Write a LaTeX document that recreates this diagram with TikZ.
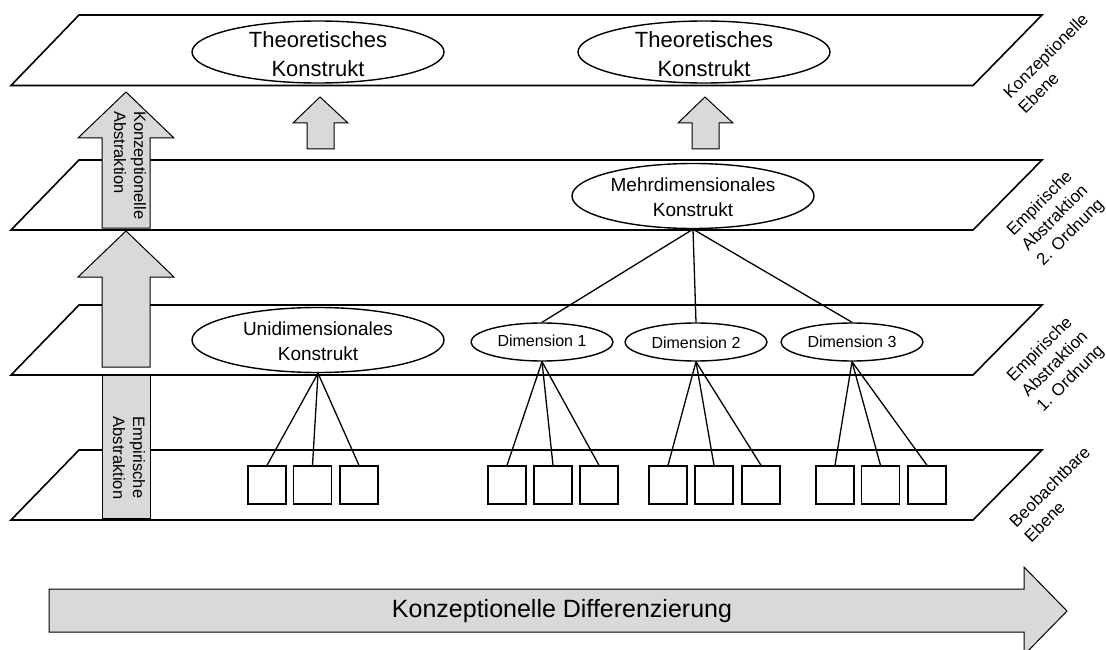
\documentclass[tikz,border=0pt]{standalone}
\usepackage{fontspec}
\setmainfont{Liberation Sans}
\usetikzlibrary{shapes.geometric}
\definecolor{arrowgray}{HTML}{D9D9D9}
\begin{document}
\begin{tikzpicture}[x=1pt,y=-1pt,
  plane/.style={draw=black, fill=white, line width=1.6pt, line join=miter},
  blockarrow/.style={draw=black, fill=arrowgray, line width=1pt, line join=miter},
  ell/.style={ellipse, draw=black, fill=white, line width=1.4pt, inner sep=0pt},
  item/.style={rectangle, draw=black, fill=white, line width=1.4pt, minimum width=38pt, minimum height=38pt, inner sep=0pt},
  link/.style={draw=black, line width=1.3pt},
  bigtxt/.style={align=center, inner sep=0pt, font=\fontsize{22}{29.5}\selectfont},
  midtxt/.style={align=center, inner sep=0pt, font=\fontsize{19}{24.5}\selectfont},
  dimtxt/.style={align=center, inner sep=0pt, font=\fontsize{16}{19}\selectfont},
  sidelbl/.style={rotate=45, align=left, inner sep=0pt, font=\fontsize{17}{21}\selectfont},
  arrowlbl/.style={rotate=-90, align=left, inner sep=0pt, font=\fontsize{16.5}{20}\selectfont}
]
\useasboundingbox (0,0) rectangle (1106,650);

% the four levels
\foreach \t/\b in {15/85.5, 160/230, 305/375, 450/520}
  \draw[plane] (11,\b) -- (973,\b) -- (1042,\t) -- (79,\t) -- cycle;

% level captions
\node[sidelbl] (capA) at (1053,63) {Konzeptionelle\\Ebene};
\node[sidelbl] (capB) at (1056,218) {Empirische\\Abstraktion\\2. Ordnung};
\node[sidelbl] (capC) at (1056,364) {Empirische\\Abstraktion\\1. Ordnung};
\node[sidelbl] (capD) at (1057,494) {Beobachtbare\\Ebene};

% vertical abstraction arrows
\draw[blockarrow] (126,92) -- (174,138) -- (150,138) -- (150,228) -- (102,228) -- (102,138) -- (78,138) -- cycle;
\draw[blockarrow] (126,231) -- (174,277) -- (150,277) -- (150,367) -- (102,367) -- (102,277) -- (78,277) -- cycle;
\draw[blockarrow] (102,375) rectangle (150,518);
\node[arrowlbl, anchor=west] (konzabs) at (130,111) {Konzeptionelle\\Abstraktion};
\node[arrowlbl] (empabs) at (129,458) {Empirische\\Abstraktion};

% small arrows below the theoretical constructs
\draw[blockarrow] (320,97) -- (348,123) -- (334,123) -- (334,149) -- (307,149) -- (307,123) -- (293,123) -- cycle;
\draw[blockarrow] (705,97) -- (733,123) -- (719,123) -- (719,149) -- (692,149) -- (692,123) -- (678,123) -- cycle;

% horizontal differentiation arrow
\draw[blockarrow] (49,589) -- (1024,589) -- (1024,567) -- (1067,611) -- (1024,655) -- (1024,632) -- (49,632) -- cycle;
\node[inner sep=0pt, font=\fontsize{25}{29}\selectfont] (diff) at (562,611) {Konzeptionelle Differenzierung};

% constructs
\node[ell, minimum width=252pt, minimum height=62pt] (theo1) at (318,52) {};
\node[bigtxt] (theo1t) at (318,54) {Theoretisches\\Konstrukt};
\node[ell, minimum width=252pt, minimum height=62pt] (theo2) at (704,52) {};
\node[bigtxt] (theo2t) at (704,54) {Theoretisches\\Konstrukt};

\node[ell, minimum width=242pt, minimum height=65pt] (mehr) at (693,196) {};
\node[midtxt] (mehrt) at (693,197) {Mehrdimensionales\\Konstrukt};

\node[ell, minimum width=252pt, minimum height=65pt] (uni) at (318,340) {};
\node[midtxt] (unit) at (318,341) {Unidimensionales\\Konstrukt};

\node[ell, minimum width=142pt, minimum height=38pt] (dim1) at (542,342) {};
\node[dimtxt] (dim1t) at (542,341) {Dimension 1};
\node[ell, minimum width=142pt, minimum height=38pt] (dim2) at (696,342) {};
\node[dimtxt] (dim2t) at (696,343) {Dimension 2};
\node[ell, minimum width=142pt, minimum height=38pt] (dim3) at (852,342) {};
\node[dimtxt] (dim3t) at (852,342) {Dimension 3};

% observable indicators
\foreach \n/\x in {u1/267, u2/312.5, u3/359, a1/507, a2/553, a3/599, b1/668, b2/714, b3/761, c1/835, c2/880.5, c3/927}
  \node[item] (\n) at (\x,485) {};

% connections
\foreach \d in {dim1, dim2, dim3}
  \draw[link] (mehr.south) -- (\d.north);
\foreach \b in {u1, u2, u3}
  \draw[link] (uni.south) -- (\b.north);
\foreach \b in {a1, a2, a3}
  \draw[link] (dim1.south) -- (\b.north);
\foreach \b in {b1, b2, b3}
  \draw[link] (dim2.south) -- (\b.north);
\foreach \b in {c1, c2, c3}
  \draw[link] (dim3.south) -- (\b.north);
\end{tikzpicture}
\end{document}
